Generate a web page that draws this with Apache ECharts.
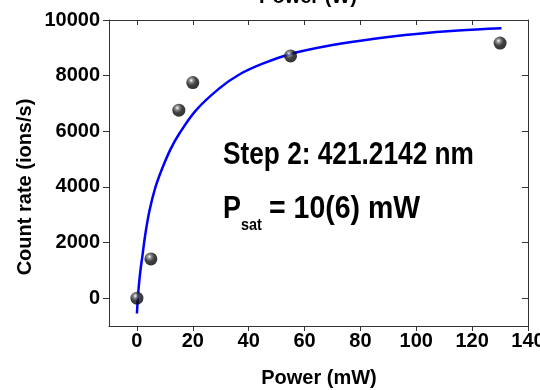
<!DOCTYPE html>
<html>
<head>
<meta charset="utf-8">
<script src="https://cdn.jsdelivr.net/npm/echarts@6/dist/echarts.min.js"></script>
<style>html,body{margin:0;padding:0;background:#fff}#c{width:540px;height:390px}</style>
</head>
<body>
<div id="c"></div>
<script>
// Measured data points (Power in mW, count rate in ions/s)
var pointPower = [0, 5, 15, 20, 55, 130];
var pointRate = [0, 1410, 6760, 7750, 8710, 9170];
// Fitted saturation curve
var curvePower = [0, 0.5, 1.2, 2.0, 3.0, 4.5, 6.5, 9, 12, 15.2, 21.2, 29.6, 36.8, 45, 55, 70, 85, 100, 115, 130.5];
var curveRate = [-550, 250, 950, 1550, 2300, 3150, 3950, 4650, 5350, 5920, 6760, 7550, 8050, 8430, 8780, 9100, 9330, 9500, 9620, 9700];
// Tick labels
var xTicks = [0, 20, 40, 60, 80, 100, 120, 140];
var yTicks = [0, 2000, 4000, 6000, 8000, 10000];

var FONT = "'Liberation Sans', Arial, sans-serif";
var AX = '#333';

var chart = echarts.init(document.getElementById('c'), null, {renderer: 'canvas'});
var sphere = {
  type: 'radial', x: 0.38, y: 0.33, r: 0.65,
  colorStops: [{offset: 0, color: '#ffffff'}, {offset: 0.22, color: '#7a7a7a'}, {offset: 0.55, color: '#151515'}, {offset: 1, color: '#000'}]
};
function zip(a, b) { return a.map(function (v, i) { return [v, b[i]]; }); }
function plain(v) { return String(v); }

chart.setOption({
  animation: false,
  backgroundColor: '#fff',
  grid: {left: 109, right: 12, top: 20, bottom: 64, containLabel: false, outerBoundsMode: 'none'},
  xAxis: [{
    type: 'value', min: -10, max: 140, position: 'bottom',
    axisLine: {show: true, onZero: false, lineStyle: {color: AX, width: 1}},
    axisTick: {show: true, inside: false, length: 5, customValues: xTicks, lineStyle: {color: AX}},
    axisLabel: {show: true, customValues: xTicks, formatter: plain, margin: 5, color: '#000', fontFamily: FONT, fontWeight: 'bold', fontSize: 20, showMaxLabel: true, hideOverlap: false},
    splitLine: {show: false}
  }, {
    type: 'value', min: -10, max: 140, position: 'top',
    axisLine: {show: true, onZero: false, lineStyle: {color: AX, width: 1}},
    axisTick: {show: true, inside: true, length: 5, customValues: xTicks, lineStyle: {color: AX}},
    axisLabel: {show: false},
    splitLine: {show: false}
  }],
  yAxis: [{
    type: 'value', min: -1000, max: 10000, position: 'left',
    axisLine: {show: true, onZero: false, lineStyle: {color: AX, width: 1}},
    axisTick: {show: true, inside: false, length: 6, customValues: yTicks, lineStyle: {color: AX}},
    axisLabel: {show: true, customValues: yTicks, formatter: plain, margin: 9, color: '#000', fontFamily: FONT, fontWeight: 'bold', fontSize: 20, showMaxLabel: true, hideOverlap: false},
    splitLine: {show: false}
  }, {
    type: 'value', min: -1000, max: 10000, position: 'right',
    axisLine: {show: true, onZero: false, lineStyle: {color: AX, width: 1}},
    axisTick: {show: true, inside: true, length: 6, customValues: yTicks, lineStyle: {color: AX}},
    axisLabel: {show: false},
    splitLine: {show: false}
  }],
  series: [{
    type: 'line', xAxisIndex: 0, yAxisIndex: 0,
    data: zip(curvePower, curveRate),
    smooth: 0.35, showSymbol: false, symbol: 'none',
    lineStyle: {color: '#0000ff', width: 2.5},
    z: 2
  }, {
    type: 'scatter', xAxisIndex: 0, yAxisIndex: 0,
    data: zip(pointPower, pointRate),
    symbol: 'circle', symbolSize: 13,
    itemStyle: {color: sphere},
    z: 3
  }],
  graphic: [
    {type: 'text', x: 308, y: 7, style: {text: 'Power (W)', x: 0, y: 0, align: 'center', verticalAlign: 'bottom', font: 'bold 20px ' + FONT, fill: '#000'}},
    {type: 'text', x: 319, y: 378, style: {text: 'Power (mW)', x: 0, y: 0, align: 'center', verticalAlign: 'middle', font: 'bold 20px ' + FONT, fill: '#000'}},
    {type: 'text', x: 25, y: 187, rotation: Math.PI / 2, style: {text: 'Count rate (ions/s)', x: 0, y: 0, align: 'center', verticalAlign: 'middle', font: 'bold 20px ' + FONT, fill: '#000'}},
    {type: 'text', x: 223, y: 155, scaleX: 0.82, style: {text: 'Step 2: 421.2142 nm', x: 0, y: 0, align: 'left', verticalAlign: 'middle', font: 'bold 32px ' + FONT, fill: '#000'}},
    {type: 'text', x: 223, y: 209, scaleX: 0.84, style: {text: 'P', x: 0, y: 0, align: 'left', verticalAlign: 'middle', font: 'bold 32px ' + FONT, fill: '#000'}},
    {type: 'text', x: 241, y: 225, scaleX: 0.85, style: {text: 'sat', x: 0, y: 0, align: 'left', verticalAlign: 'middle', font: 'bold 17px ' + FONT, fill: '#000'}},
    {type: 'text', x: 269, y: 209, scaleX: 0.89, style: {text: '= 10(6) mW', x: 0, y: 0, align: 'left', verticalAlign: 'middle', font: 'bold 32px ' + FONT, fill: '#000'}}
  ]
});
</script>
</body>
</html>
